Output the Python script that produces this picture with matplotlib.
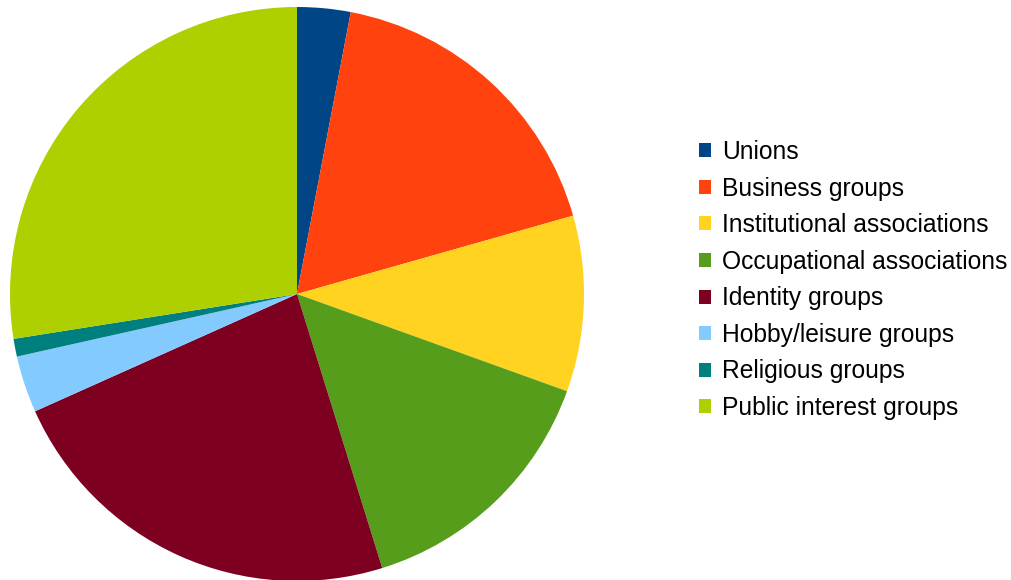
#!/usr/bin/env python3
import matplotlib
matplotlib.use("Agg")
import matplotlib.pyplot as plt
from matplotlib.patches import Patch

labels = [
    "Unions",
    "Business groups",
    "Institutional associations",
    "Occupational associations",
    "Identity groups",
    "Hobby/leisure groups",
    "Religious groups",
    "Public interest groups",
]
shares = [3.0, 17.6, 9.9, 14.7, 23.1, 3.2, 1.0, 27.5]
colors = ["#004586", "#ff420e", "#ffd320", "#579d1c",
          "#7e0021", "#83caff", "#007f7f", "#aecf00"]

plt.rcParams["font.family"] = ["Liberation Sans", "DejaVu Sans"]

W, H = 1011, 580
fig = plt.figure(figsize=(W / 100, H / 100), dpi=100)

cx, cy, r = 297, 294, 287
ax = fig.add_axes([(cx - r) / W, (H - cy - r) / H, 2 * r / W, 2 * r / H])
ax.pie(shares, colors=colors, startangle=90, counterclock=False,
       radius=1.0, wedgeprops={"linewidth": 0})
ax.set_xlim(-1, 1)
ax.set_ylim(-1, 1)
ax.set_aspect("equal")
ax.axis("off")

handles = [Patch(facecolor=c, edgecolor="none") for c in colors]
fig.legend(
    handles, labels,
    loc="center left",
    bbox_to_anchor=(699 / W, 1 - 280 / H),
    frameon=False,
    fontsize=17.7,
    handlelength=0.5,
    handleheight=0.5,
    handletextpad=0.45,
    labelspacing=0.51,
    borderpad=0,
    borderaxespad=0,
)

fig.savefig("out.png", dpi=100)
